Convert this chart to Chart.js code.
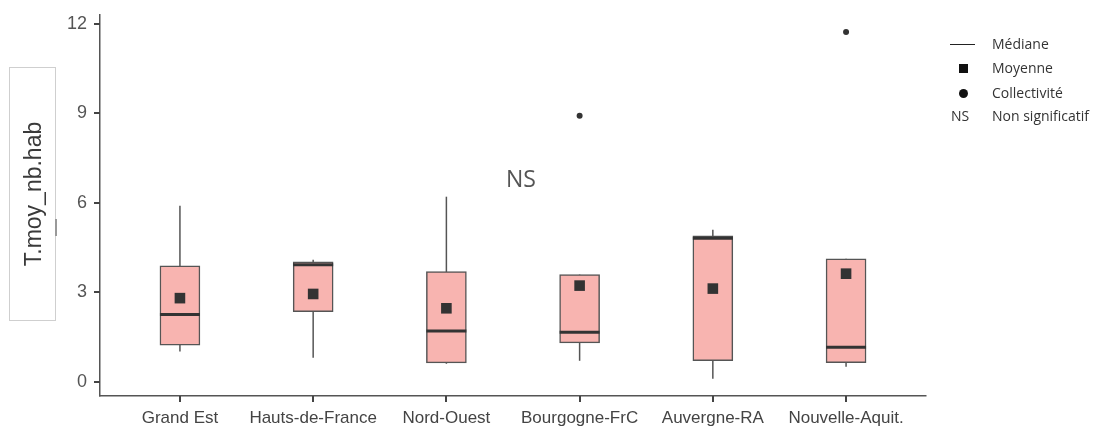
<!DOCTYPE html>
<html>
<head>
<meta charset="utf-8">
<script src="https://cdn.jsdelivr.net/npm/chart.js@4.4.1/dist/chart.umd.min.js"></script>
<style>
  html, body { margin:0; padding:0; background:#fff; }
  #wrap { position:relative; width:1109px; height:427px; overflow:hidden; }
  canvas { position:absolute; left:0; top:0; }
  #ytitle { position:absolute; left:9px; top:67px; width:47px; height:254px; border:1px solid #cfcfcf; box-sizing:border-box; }
  #ytitle span { position:absolute; left:50%; top:50%; transform:translate(-50%,-50%) rotate(-90deg); white-space:nowrap; font-family:"Liberation Sans", Arial, sans-serif; font-size:23px; color:#3a3a3a; }
  .leg { position:absolute; font-family:"Open Sans", "Noto Sans", sans-serif; font-size:14px; color:#333; line-height:16px; }
</style>
</head>
<body>
<div id="wrap">
  <canvas id="c" width="1109" height="427"></canvas>
  <div id="ytitle"><span>T.moy_nb.hab</span></div>
  <div style="position:absolute;left:55px;top:219px;width:1.5px;height:17px;background:#999;"></div>
  <div class="leg" style="left:950px;top:44px;width:25px;height:0;border-top:1.5px solid #222;"></div>
  <div class="leg" style="left:992px;top:36px;">Médiane</div>
  <div class="leg" style="left:959px;top:64px;width:9px;height:9px;background:#111;"></div>
  <div class="leg" style="left:992px;top:60px;">Moyenne</div>
  <div class="leg" style="left:959px;top:89px;width:9px;height:9px;background:#111;border-radius:50%;"></div>
  <div class="leg" style="left:992px;top:85px;">Collectivité</div>
  <div class="leg" style="left:951px;top:108px;">NS</div>
  <div class="leg" style="left:992px;top:108px;">Non significatif</div>
</div>
<script>
const categories = ["Grand Est", "Hauts-de-France", "Nord-Ouest", "Bourgogne-FrC", "Auvergne-RA", "Nouvelle-Aquit."];
const whiskerMin = [1.02, 0.81, 0.61, 0.71, 0.11, 0.51];
const q1Values   = [1.23, 2.36, 0.64, 1.31, 0.71, 0.65];
const medians    = [2.26, 3.93, 1.71, 1.67, 4.82, 1.16];
const q3Values   = [3.89, 4.03, 3.70, 3.60, 4.90, 4.13];
const whiskerMax = [5.91, 4.10, 6.21, 3.60, 5.10, 4.13];
const means      = [2.81, 2.95, 2.47, 3.23, 3.13, 3.63];
const outliers   = [{cat: 3, value: 8.92}, {cat: 5, value: 11.73}];
const yTicks     = [0, 3, 6, 9, 12];
const annotationText = "NS";
const annotationPos = {x: 2.56, y: 6.75};

const boxData = categories.map((c, i) => ({x: i, y: [q1Values[i], q3Values[i]]}));
const meanData = categories.map((c, i) => ({x: i, y: means[i]}));
const outlierData = outliers.map(o => ({x: o.cat, y: o.value}));

const boxPlugin = {
  id: 'boxParts',
  beforeDatasetsDraw(chart) {
    const {ctx, scales: {x, y}} = chart;
    ctx.save();
    ctx.strokeStyle = '#555';
    ctx.lineWidth = 1.5;
    categories.forEach((c, i) => {
      const px = x.getPixelForValue(i);
      ctx.beginPath();
      ctx.moveTo(px, y.getPixelForValue(whiskerMin[i]));
      ctx.lineTo(px, y.getPixelForValue(whiskerMax[i]));
      ctx.stroke();
    });
    ctx.restore();
  },
  afterDatasetDraw(chart, args) {
    if (args.index !== 0) return;
    const {ctx, scales: {x, y}} = chart;
    ctx.save();
    ctx.strokeStyle = '#333';
    ctx.lineWidth = 3;
    categories.forEach((c, i) => {
      const px = x.getPixelForValue(i);
      const py = y.getPixelForValue(medians[i]);
      ctx.beginPath();
      ctx.moveTo(px - 20, py);
      ctx.lineTo(px + 20, py);
      ctx.stroke();
    });
    ctx.restore();
  },
  afterDraw(chart) {
    const {ctx, chartArea, scales: {x, y}} = chart;
    ctx.save();
    ctx.strokeStyle = '#444';
    ctx.lineWidth = 2;
    const xb = chartArea.bottom;
    categories.forEach((c, i) => {
      const px = Math.round(x.getPixelForValue(i));
      ctx.beginPath(); ctx.moveTo(px, xb); ctx.lineTo(px, xb + 6); ctx.stroke();
    });
    const yl = chartArea.left;
    yTicks.forEach(v => {
      const py = Math.round(y.getPixelForValue(v));
      ctx.beginPath(); ctx.moveTo(yl, py); ctx.lineTo(yl - 6, py); ctx.stroke();
    });
    ctx.fillStyle = '#555';
    ctx.font = '23px "Open Sans", "Noto Sans", sans-serif';
    ctx.textAlign = 'center';
    ctx.textBaseline = 'middle';
    ctx.fillText(annotationText, x.getPixelForValue(annotationPos.x), y.getPixelForValue(annotationPos.y));
    ctx.restore();
  }
};

new Chart(document.getElementById('c'), {
  data: {
    datasets: [
      {
        type: 'bar',
        data: boxData,
        backgroundColor: '#f8b4b0',
        borderColor: '#555',
        borderWidth: 1.5,
        borderSkipped: false,
        barThickness: 40,
        order: 3
      },
      {
        type: 'scatter',
        data: meanData,
        pointStyle: 'rect',
        pointRadius: 7.5,
        backgroundColor: '#333',
        borderWidth: 0,
        order: 2
      },
      {
        type: 'scatter',
        data: outlierData,
        pointStyle: 'circle',
        pointRadius: 3,
        backgroundColor: '#333',
        borderWidth: 0,
        order: 1
      }
    ]
  },
  options: {
    responsive: false,
    animation: false,
    events: [],
    layout: { padding: { left: 0, top: 15, right: 183, bottom: 0 } },
    plugins: { legend: { display: false }, tooltip: { enabled: false } },
    scales: {
      x: {
        type: 'linear',
        min: -0.6,
        max: 5.6,
        offset: false,
        afterBuildTicks(scale) { scale.ticks = categories.map((c, i) => ({value: i})); },
        afterFit(scale) { scale.height = 31; scale.paddingLeft = 0; scale.paddingRight = 0; },
        ticks: {
          callback: (v) => categories[v],
          color: '#444',
          font: { family: '"Liberation Sans", Arial, sans-serif', size: 17 },
          padding: 12,
          maxRotation: 0,
          autoSkip: false
        },
        grid: { display: true, offset: false, drawOnChartArea: false, drawTicks: false, color: '#555', lineWidth: 1.5 },
        border: { display: true, color: '#555', width: 1.5 }
      },
      y: {
        min: -0.47,
        max: 12.3,
        afterBuildTicks(scale) { scale.ticks = yTicks.map(v => ({value: v})); },
        afterFit(scale) { scale.width = 100; scale.paddingTop = 0; scale.paddingBottom = 0; },
        ticks: {
          color: '#555',
          font: { family: '"Liberation Sans", Arial, sans-serif', size: 18 },
          padding: 13
        },
        grid: { display: true, offset: false, drawOnChartArea: false, drawTicks: false, color: '#555', lineWidth: 1.5 },
        border: { display: true, color: '#555', width: 1.5 }
      }
    }
  },
  plugins: [boxPlugin]
});
</script>
</body>
</html>
